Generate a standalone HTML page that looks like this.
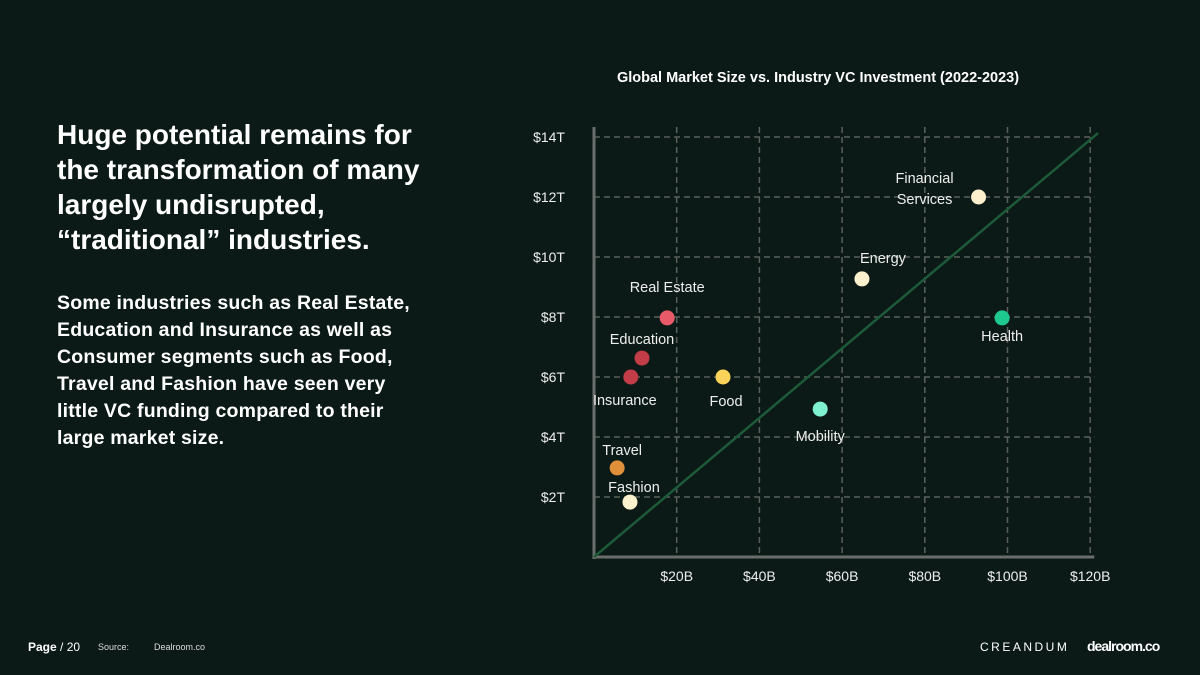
<!DOCTYPE html>
<html><head><meta charset="utf-8"><style>
body{margin:0;width:1200px;height:675px;background:#0b1a16;overflow:hidden;font-family:"Liberation Sans",sans-serif;color:#fff;position:relative}
.h{position:absolute;left:57px;top:117px;font-weight:bold;font-size:28px;line-height:35px;letter-spacing:0px;white-space:nowrap}
.b{position:absolute;left:57px;top:290px;font-weight:bold;font-size:19.5px;line-height:27px;letter-spacing:0.2px;white-space:nowrap}
.f{position:absolute;top:640px;font-size:11px;color:#ddd}
</style></head><body>
<div class="h">Huge potential remains for<br>the transformation of many<br>largely undisrupted,<br>“traditional” industries.</div>
<div class="b">Some industries such as Real Estate,<br>Education and Insurance as well as<br>Consumer segments such as Food,<br>Travel and Fashion have seen very<br>little VC funding compared to their<br>large market size.</div>
<svg id="chart" width="1200" height="675" style="position:absolute;left:0;top:0" font-family="Liberation Sans, sans-serif"></svg>
<div class="f" style="left:28px;font-size:12px;color:#fff"><b>Page</b> / 20</div>
<div class="f" style="left:98px;font-size:9px;top:642px">Source:</div>
<div class="f" style="left:154px;font-size:9px;top:642px">Dealroom.co</div>
<div class="f" style="left:980px;font-size:12px;letter-spacing:2.5px;color:#fff;top:640px">CREANDUM</div>
<div class="f" style="left:1087px;font-size:14px;font-weight:bold;letter-spacing:-1px;color:#fff;top:638px">dealroom.co</div>
<script>
const names=["Fashion","Travel","Insurance","Education","Real Estate","Food","Mobility","Energy","Financial Services","Health"];
const vcBillions=[8.7,5.6,8.9,11.6,17.7,31.2,54.7,64.8,93,98.7];
const marketTrillions=[1.83,2.97,6.0,6.63,7.97,6.0,4.93,9.27,12.0,7.97];
const colors=["#fdf0cc","#e0903a","#c23d48","#c23d48","#e85a68","#fbd35a","#7ff0d0","#fdf0cc","#fdf0cc","#1ec98f"];
const xTicks=[20,40,60,80,100,120];
const xTickLabels=["$20B","$40B","$60B","$80B","$100B","$120B"];
const yTicks=[2,4,6,8,10,12,14];
const yTickLabels=["$2T","$4T","$6T","$8T","$10T","$12T","$14T"];
const labelOffsets={"Fashion":[4,-10],"Travel":[5,-13],"Insurance":[-6,28],"Education":[0,-14],"Real Estate":[0,-26],"Food":[3,29],"Mobility":[0,32],"Energy":[21,-16],"Financial Services":[-54,-4],"Health":[0,23]};
const svg=document.getElementById('chart');const NS='http://www.w3.org/2000/svg';
const x0=594,y0=557;
const X=v=>x0+v*4.135, Y=v=>y0-v*30;
function mk(t,a,p){const e=document.createElementNS(NS,t);for(const k in a)e.setAttribute(k,a[k]);(p||svg).appendChild(e);return e;}
let t=mk('text',{x:818,y:82,'text-anchor':'middle','font-size':14.5,'font-weight':'bold',fill:'#fff'});t.textContent='Global Market Size vs. Industry VC Investment (2022-2023)';


yTicks.forEach((v,i)=>{const l=mk('line',{x1:x0,x2:X(121),y1:Y(v),y2:Y(v),stroke:'#5a5f5c','stroke-width':1.5,'stroke-dasharray':'6,4'});


const tx=mk('text',{x:565,y:Y(v)+5,'text-anchor':'end','font-size':14,fill:'#eee'});tx.textContent=yTickLabels[i];

});
xTicks.forEach((v,i)=>{const l=mk('line',{x1:X(v),x2:X(v),y1:127,y2:y0,stroke:'#5a5f5c','stroke-width':1.5,'stroke-dasharray':'6,4'});


const tx=mk('text',{x:X(v),y:581,'text-anchor':'middle','font-size':14,fill:'#eee'});tx.textContent=xTickLabels[i];

});
let a=mk('line',{x1:x0,x2:x0,y1:127,y2:y0+2,stroke:'#6a6d6b','stroke-width':3});


a=mk('line',{x1:x0-1,x2:X(121),y1:y0,y2:y0,stroke:'#6a6d6b','stroke-width':3});


a=mk('line',{x1:x0,y1:y0,x2:X(121.9),y2:Y(14.13),stroke:'#1d5a3a','stroke-width':2.5});


names.forEach((n,i)=>{const cx=X(vcBillions[i]),cy=Y(marketTrillions[i]);
const c=mk('circle',{cx:cx,cy:cy,r:7.5,fill:colors[i]});


const o=labelOffsets[n];const lines=n==="Financial Services"?["Financial","Services"]:[n];
lines.forEach((s,j)=>{const tx=mk('text',{x:cx+o[0],y:cy+o[1]+j*21+(n==="Financial Services"?-10:0),'text-anchor':'middle','font-size':14.5,fill:'#eee'});tx.textContent=s;

});});
</script>
</body></html>
